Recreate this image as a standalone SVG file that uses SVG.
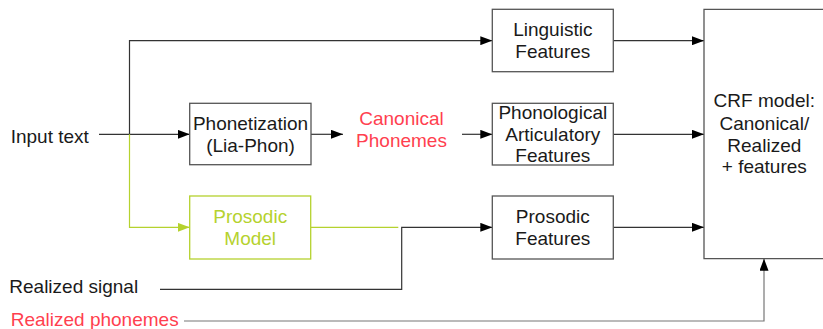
<svg xmlns="http://www.w3.org/2000/svg" width="823" height="329" viewBox="0 0 823 329">
<defs>
<marker id="ah" viewBox="0 0 12 9" refX="12" refY="4.5" markerWidth="12" markerHeight="9" markerUnits="userSpaceOnUse" orient="auto"><path d="M0,0 L12,4.5 L0,9 Z" fill="#000"/></marker>
<marker id="ahg" viewBox="0 0 12 9" refX="12" refY="4.5" markerWidth="12" markerHeight="9" markerUnits="userSpaceOnUse" orient="auto"><path d="M0,0 L12,4.5 L0,9 Z" fill="#b5d22e"/></marker>
<style>
text{font-family:"Liberation Sans",Arial,sans-serif;font-size:19px;fill:#1a1a1a}
.c{text-anchor:middle}
.red{fill:#ff3f4f}
.grn{fill:#b5d22e}
.box{fill:#fff;stroke:#555;stroke-width:1.3}
.gbox{fill:#fff;stroke:#b5d22e;stroke-width:1.3}
.ln{fill:none;stroke:#333;stroke-width:1.2}
.gln{fill:none;stroke:#b5d22e;stroke-width:1.2}
</style>
</defs>
<rect width="823" height="329" fill="#fff"/>
<g id="connectors">
<path class="ln" d="M99,134.3 H189.7" marker-end="url(#ah)"/>
<path class="ln" d="M129.5,134.3 V40.7 H492.3" marker-end="url(#ah)"/>
<path class="gln" d="M129.5,134.3 V227.3 H189.7" marker-end="url(#ahg)"/>
<path class="ln" d="M311,134.3 H343"  marker-end="url(#ah)"/>
<path class="ln" d="M462,134.3 H492.3" marker-end="url(#ah)"/>
<path class="ln" d="M613.3,40.7 H704" marker-end="url(#ah)"/>
<path class="ln" d="M613.3,134.3 H704" marker-end="url(#ah)"/>
<path class="ln" d="M613.3,227.3 H704" marker-end="url(#ah)"/>
<path class="gln" d="M310.7,227.3 H398.3"/>
<path class="ln" d="M160,289.3 H401.7 V227.3 H492.3" marker-end="url(#ah)"/>
<path class="ln" d="M184,321 H764 V258.7" style="stroke:#777" marker-end="url(#ah)"/>
</g>
<g id="input-text"><text x="10.7" y="143.3">Input text</text></g>
<g id="realized-signal"><text x="9.3" y="293.3">Realized signal</text></g>
<g id="realized-phonemes"><text class="red" x="10.7" y="326">Realized phonemes</text></g>
<g id="phonetization">
<rect class="box" x="189.7" y="103.3" width="121.3" height="61.4"/>
<text class="c" x="250.5" y="129.8">Phonetization</text>
<text class="c" x="250.5" y="151.5">(Lia-Phon)</text>
</g>
<g id="canonical-phonemes">
<text class="c red" x="401.5" y="124.8">Canonical</text>
<text class="c red" x="401.5" y="146.5">Phonemes</text>
</g>
<g id="prosodic-model">
<rect class="gbox" x="189.7" y="196" width="121" height="63"/>
<text class="c grn" x="250.2" y="223.2">Prosodic</text>
<text class="c grn" x="250.2" y="245.2">Model</text>
</g>
<g id="linguistic-features">
<rect class="box" x="492.3" y="9.3" width="121" height="62.4"/>
<text class="c" x="552.8" y="35.8">Linguistic</text>
<text class="c" x="552.8" y="58.2">Features</text>
</g>
<g id="phonological-features">
<rect class="box" x="492.3" y="103.3" width="121" height="61.7"/>
<text class="c" x="552.8" y="119.2">Phonological</text>
<text class="c" x="552.8" y="141.2">Articulatory</text>
<text class="c" x="552.8" y="161.8">Features</text>
</g>
<g id="prosodic-features">
<rect class="box" x="492.3" y="196" width="121" height="63"/>
<text class="c" x="552.8" y="223.2">Prosodic</text>
<text class="c" x="552.8" y="245.2">Features</text>
</g>
<g id="crf-model">
<path d="M830,9.3 H704 V258.7 H830" fill="#fff" stroke="#555" stroke-width="1.3"/>
<text class="c" x="764.3" y="106.5">CRF model:</text>
<text class="c" x="764.3" y="129.8">Canonical/</text>
<text class="c" x="764.3" y="151.8">Realized</text>
<text class="c" x="764.3" y="173.2">+ features</text>
</g>
</svg>
